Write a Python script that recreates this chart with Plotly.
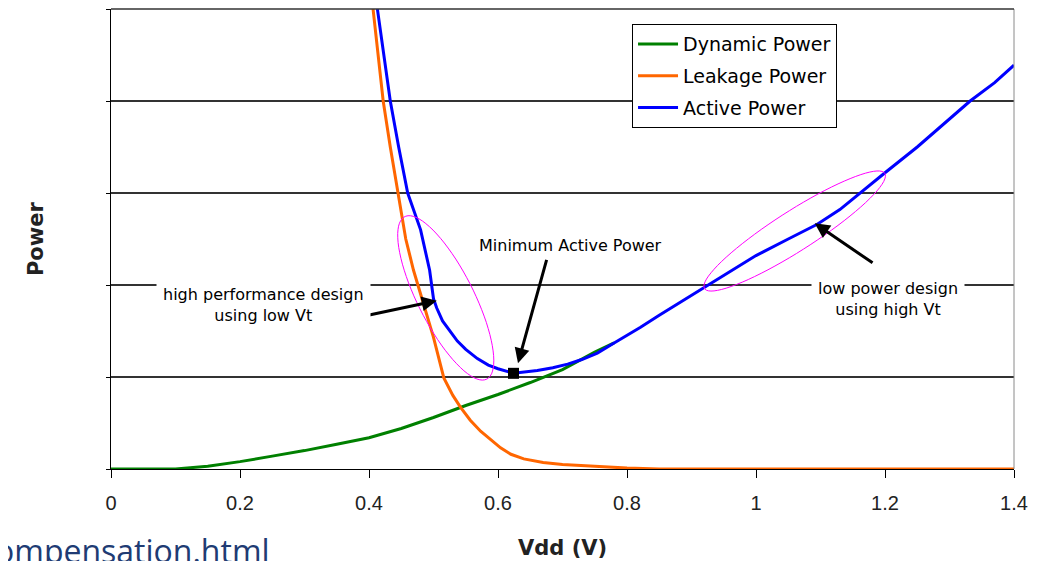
import numpy as np
import plotly.graph_objects as go

# ---------------- data ----------------
dyn_x = [0.0, 0.05, 0.10, 0.15, 0.20, 0.25, 0.30, 0.35, 0.40, 0.45, 0.50, 0.55, 0.60, 0.65, 0.70, 0.75, 0.78]
dyn_y = [0.0, 0.0, 0.0, 0.03, 0.08, 0.14, 0.20, 0.27, 0.34, 0.44, 0.56, 0.69, 0.81, 0.94, 1.08, 1.27, 1.37]

leak_x = [0.400, 0.406, 0.414, 0.422, 0.433, 0.445, 0.457, 0.469, 0.484, 0.500, 0.516, 0.530,
          0.542, 0.557, 0.573, 0.590, 0.604, 0.620, 0.640, 0.670, 0.700, 0.750, 0.800, 0.850, 1.000, 1.200, 1.400]
leak_y = [5.40, 5.00, 4.50, 4.00, 3.50, 3.00, 2.50, 2.16, 1.80, 1.43, 0.99, 0.80,
          0.67, 0.53, 0.41, 0.31, 0.23, 0.16, 0.11, 0.07, 0.05, 0.03, 0.01, 0.0, 0.0, 0.0, 0.0]

act_x = [0.407, 0.413, 0.423, 0.433, 0.446, 0.460, 0.480, 0.494, 0.500, 0.505, 0.514, 0.525, 0.537,
         0.550, 0.568, 0.585, 0.600, 0.624, 0.640, 0.661, 0.685, 0.708, 0.730, 0.754, 0.780, 0.821,
         0.850, 0.880, 0.924, 0.960, 1.000, 1.050, 1.095, 1.130, 1.161, 1.200, 1.250, 1.300, 1.332,
         1.370, 1.400]
act_y = [5.30, 5.00, 4.50, 4.00, 3.50, 3.00, 2.60, 2.16, 1.85, 1.75, 1.61, 1.50, 1.39,
         1.30, 1.20, 1.13, 1.09, 1.04, 1.05, 1.07, 1.10, 1.14, 1.19, 1.26, 1.37, 1.54,
         1.67, 1.80, 2.00, 2.15, 2.32, 2.50, 2.66, 2.82, 3.00, 3.22, 3.50, 3.80, 4.00,
         4.20, 4.39]

min_x = [0.624]
min_y = [1.04]

x_ticks = [0, 0.2, 0.4, 0.6, 0.8, 1.0, 1.2, 1.4]
x_tick_labels = ["0", "0.2", "0.4", "0.6", "0.8", "1", "1.2", "1.4"]
y_grid = [0, 1, 2, 3, 4, 5]

series_names = ["Dynamic Power", "Leakage Power", "Active Power"]
series_colors = ["#008000", "#FF6600", "#0000FF"]

# ---------------- layout geometry ----------------
# the page body has an 8px margin, so the figure is sized/placed to compensate
W, H = 1037, 553
ML, MR, MT, MB = 103, 31, 1, 92
X_RANGE = [0, 1.4]
Y_RANGE = [0, 5]
PX_X = (W - ML - MR) / (X_RANGE[1] - X_RANGE[0])
PX_Y = (H - MT - MB) / (Y_RANGE[1] - Y_RANGE[0])

FONT = "Liberation Sans, Arial, sans-serif"
WIDE = "DejaVu Sans, Verdana, sans-serif"

fig = go.Figure()
for xs, ys, name, col in zip([dyn_x, leak_x, act_x], [dyn_y, leak_y, act_y], series_names, series_colors):
    fig.add_trace(go.Scatter(x=xs, y=ys, mode="lines", name=name, legendgroup=name,
                             line=dict(color=col, width=3)))

fig.add_trace(go.Scatter(x=min_x, y=min_y, mode="markers", showlegend=False,
                         marker=dict(symbol="square", size=11, color="black")))


def ellipse_path(cx, cy, a_px, b_px, ang_deg, n=80):
    th = np.deg2rad(ang_deg)
    t = np.linspace(0, 2 * np.pi, n)
    dx = a_px * np.cos(t) * np.cos(th) - b_px * np.sin(t) * np.sin(th)
    dy = a_px * np.cos(t) * np.sin(th) + b_px * np.sin(t) * np.cos(th)
    xs = cx + dx / PX_X
    ys = cy - dy / PX_Y
    pts = [f"{x:.4f},{y:.4f}" for x, y in zip(xs, ys)]
    return "M " + " L ".join(pts) + " Z"


shapes = [
    dict(type="path", xref="x", yref="y", path=ellipse_path(0.519, 1.86, 91, 28, 63.2),
         line=dict(color="#FF00FF", width=1)),
    dict(type="path", xref="x", yref="y", path=ellipse_path(1.060, 2.587, 107, 20, -32.6),
         line=dict(color="#FF00FF", width=1)),
    dict(type="line", xref="paper", yref="paper", x0=1, x1=1, y0=0, y1=1,
         line=dict(color="#8a8a8a", width=1)),
    dict(type="line", xref="paper", yref="paper", x0=0, x1=1, y0=1, y1=1,
         line=dict(color="#333333", width=1.5)),
]

annotations = [
    # arrows
    dict(x=0.505, y=1.83, ax=0.378, ay=1.64, xref="x", yref="y", axref="x", ayref="y",
         text="", showarrow=True, arrowhead=2, arrowsize=1, arrowwidth=3, arrowcolor="black"),
    dict(x=0.631, y=1.15, ax=0.676, ay=2.29, xref="x", yref="y", axref="x", ayref="y",
         text="", showarrow=True, arrowhead=2, arrowsize=1, arrowwidth=3, arrowcolor="black"),
    dict(x=1.091, y=2.67, ax=1.183, ay=2.23, xref="x", yref="y", axref="x", ayref="y",
         text="", showarrow=True, arrowhead=2, arrowsize=1, arrowwidth=3, arrowcolor="black"),
    # labels
    dict(x=0.236, y=1.78, xref="x", yref="y", text="high performance design<br>using low Vt",
         showarrow=False, font=dict(family=WIDE, size=16, color="black"),
         bgcolor="white", borderpad=6),
    dict(x=0.713, y=2.43, xref="x", yref="y", text="Minimum Active Power",
         showarrow=False, font=dict(family=WIDE, size=16, color="black")),
    dict(x=1.205, y=1.85, xref="x", yref="y", text="low power design<br>using high Vt",
         showarrow=False, font=dict(family=WIDE, size=16, color="black"),
         bgcolor="white", borderpad=6),
    # axis titles
    dict(x=0.5, y=-0.172, xref="paper", yref="paper", text="<b>Vdd (V)</b>", showarrow=False,
         xanchor="center", yanchor="middle",
         font=dict(family=WIDE, size=21, color="#222")),
    dict(x=-0.083, y=0.5, xref="paper", yref="paper", text="<b>Power</b>", showarrow=False,
         xanchor="center", yanchor="middle", textangle=-90,
         font=dict(family=WIDE, size=21, color="#222")),
    # cropped url fragment
    dict(x=0.178, y=-0.178, xref="paper", yref="paper", text="ompensation.html", showarrow=False,
         xanchor="right", yanchor="middle", font=dict(family="Open Sans", size=32, color="#203B73")),
]

fig.update_layout(
    width=W, height=H,
    margin=dict(l=ML, r=MR, t=MT, b=MB),
    paper_bgcolor="white", plot_bgcolor="white",
    font=dict(family=FONT, color="black"),
    shapes=shapes, annotations=annotations,
    legend=dict(x=0.577, y=0.967, xanchor="left", yanchor="top",
                bgcolor="white", bordercolor="black", borderwidth=1,
                font=dict(family=WIDE, size=19, color="black"),
                itemwidth=40, tracegroupgap=4),
    xaxis=dict(range=X_RANGE, tickvals=x_ticks, ticktext=x_tick_labels,
               showgrid=False, zeroline=False, showline=True, linecolor="black", linewidth=1,
               ticks="outside", ticklen=8, tickcolor="black", ticklabelstandoff=8,
               tickfont=dict(family=FONT, size=20, color="#222")),
    yaxis=dict(range=Y_RANGE, tickvals=y_grid, showticklabels=False,
               showgrid=True, gridcolor="#333333", gridwidth=1.5, zeroline=False,
               showline=True, linecolor="black", linewidth=1,
               ticks="outside", ticklen=4, tickcolor="black"),
)

fig.write_html("out.html")
